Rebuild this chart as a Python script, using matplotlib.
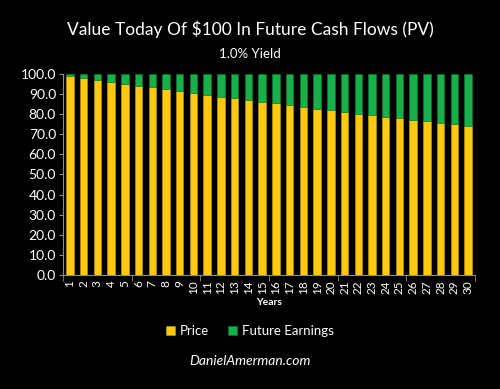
import matplotlib

matplotlib.use("Agg")

import matplotlib.pyplot as plt
from matplotlib.ticker import FixedLocator

YEARS = list(range(1, 31))
PRICE = [99.0, 98.0, 97.1, 96.1, 95.1, 94.2, 93.3, 92.3, 91.4, 90.5,
         89.6, 88.7, 87.9, 87.0, 86.1, 85.3, 84.4, 83.6, 82.8, 82.0,
         81.1, 80.3, 79.5, 78.8, 78.0, 77.2, 76.4, 75.7, 74.9, 74.2]
FUTURE = [1.0, 2.0, 2.9, 3.9, 4.9, 5.8, 6.7, 7.7, 8.6, 9.5,
          10.4, 11.3, 12.1, 13.0, 13.9, 14.7, 15.6, 16.4, 17.2, 18.0,
          18.9, 19.7, 20.5, 21.2, 22.0, 22.8, 23.6, 24.3, 25.1, 25.8]
YELLOW = "#FFC912"
GREEN = "#17B04A"
AXIS = "#8C8C8C"

plt.rcParams["font.family"] = ["Lato", "DejaVu Sans"]

fig = plt.figure(figsize=(5.0, 3.89), dpi=100, facecolor="black")
ax = fig.add_axes([0.126, 0.293, 0.824, 0.517], facecolor="black")

ax.bar(YEARS, PRICE, width=0.54, color=YELLOW, edgecolor="#C89A00", linewidth=0.4, label="Price", zorder=3)
ax.bar(YEARS, FUTURE, bottom=PRICE, width=0.54, color=GREEN, edgecolor="#0E7A30", linewidth=0.4,
       label="Future Earnings", zorder=3)

ax.set_xlim(0.5, 30.5)
ax.set_ylim(0, 100)
ax.set_yticks(range(0, 101, 10))
ax.set_yticklabels([f"{v:.1f}" for v in range(0, 101, 10)])
ax.set_xticks(YEARS)
ax.set_xticklabels([str(y) for y in YEARS], rotation=90)
ax.xaxis.set_minor_locator(FixedLocator([0.5, 5.5, 10.5, 15.5, 20.5, 25.5, 30.5]))
ax.tick_params(axis="x", which="major", length=0, colors="white", labelsize=8.5, pad=4)
ax.tick_params(axis="x", which="minor", length=4, color=AXIS)
ax.tick_params(axis="y", length=3, color=AXIS, colors="white", labelsize=10, pad=2)
for side in ["top", "right"]:
    ax.spines[side].set_visible(False)
for side in ["left", "bottom"]:
    ax.spines[side].set_color(AXIS)
    ax.spines[side].set_linewidth(0.8)

ax.set_xlabel("Years", color="white", fontsize=7.5, fontweight="bold", labelpad=3)

fig.text(0.5, 0.925, "Value Today Of $100 In Future Cash Flows (PV)", color="white",
         fontsize=12.5, ha="center", va="center")
fig.text(0.5, 0.86, "1.0% Yield", color="white", fontsize=9.5, ha="center", va="center")

leg = fig.legend(loc="center", bbox_to_anchor=(0.5, 0.148), ncol=2, frameon=False,
                 fontsize=9.5, handlelength=0.7, handleheight=0.7, handletextpad=0.4, columnspacing=1.4)
for t in leg.get_texts():
    t.set_color("white")

fig.text(0.5, 0.073, "DanielAmerman.com", color="white", fontsize=10, style="italic",
         ha="center", va="center")

fig.savefig("out.png", dpi=100, facecolor="black")
